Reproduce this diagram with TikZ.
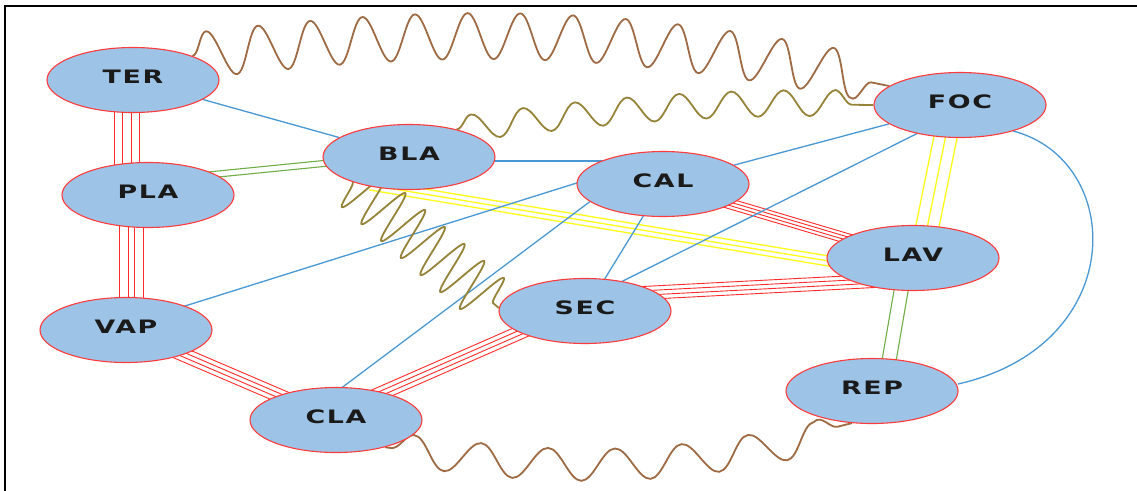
\documentclass[tikz,border=0pt]{standalone}
\usepackage{fontspec}
\newfontfamily\nodefont{DejaVu Sans}[FakeStretch=1.45,LetterSpace=9]
\usetikzlibrary{calc,shapes.geometric,decorations.pathmorphing,backgrounds}
\definecolor{nodefill}{HTML}{9DC3E6}
\definecolor{noderim}{HTML}{FF3B3B}
\definecolor{blueline}{HTML}{4A98D3}
\definecolor{redline}{HTML}{FF2A2A}
\definecolor{yelline}{HTML}{FFFF1A}
\definecolor{grnline}{HTML}{70AD47}
\definecolor{brownw}{HTML}{9E6A44}
\definecolor{olivew}{HTML}{948338}
\definecolor{txt}{HTML}{1A1A1A}
\tikzset{
  state/.style={ellipse, draw=noderim, line width=1.1pt, fill=nodefill,
    minimum width=172pt, minimum height=65pt, inner sep=0pt, text=txt,
    font=\nodefont\bfseries\fontsize{18.5}{18.5}\selectfont, text depth=6pt},
  blueedge/.style={draw=blueline, line width=1.3pt},
  rededge/.style={draw=redline, line width=0.9pt},
  yeledge/.style={draw=yelline, line width=1.3pt},
  grnedge/.style={draw=grnline, line width=1.1pt},
  brownwave/.style={draw=brownw, line width=1.8pt, decorate},
  olivewave/.style={draw=olivew, line width=1.8pt, decorate},
  frame/.style={draw=black, line width=1.4pt}
}
\newcommand\multiedge[4]{\foreach \o in {#4}{\draw[#1] ($(#2)!\o pt!90:(#3)$) -- ($(#3)!\o pt!-90:(#2)$);}}
\begin{document}
\begin{tikzpicture}[x=1pt,y=1pt]
\useasboundingbox (0,0) rectangle (1137,-490);
% nodes
\node[state] (TER) at (133,-80) {TER};
\node[state] (PLA) at (148,-195) {PLA};
\node[state] (BLA) at (409,-157) {BLA};
\node[state] (CAL) at (663,-184) {CAL};
\node[state] (FOC) at (960,-105) {FOC};
\node[state] (LAV) at (913,-258) {LAV};
\node[state] (VAP) at (126,-330) {VAP};
\node[state] (CLA) at (336,-420) {CLA};
\node[state] (SEC) at (585,-311) {SEC};
\node[state] (REP) at (872,-391) {REP};
\begin{scope}[on background layer]
\fill[white] (0,0) rectangle (1137,-490);
\draw[frame] (5,-540) |- (1180,-6);
% helper coordinates tied to nodes
\coordinate (terA) at ($(TER)+(-6.5,0)$);
\coordinate (plaA) at ($(PLA)+(-21.5,0)$);
\coordinate (plaB) at ($(PLA)+(-17,0)$);
\coordinate (vapB) at ($(VAP)+(5,0)$);
\coordinate (claC) at ($(CLA)+(0,7)$);
\coordinate (secC) at ($(SEC)+(0,7)$);
\coordinate (secD) at ($(SEC)+(0,15)$);
\coordinate (lavD) at ($(LAV)+(0,-21)$);
\coordinate (focE) at ($(FOC)+(-8,0)$);
\coordinate (lavE) at ($(LAV)+(8,0)$);
\coordinate (blaF) at ($(BLA)+(-39,-28)$);
\coordinate (lavF) at ($(LAV)+(0,-17)$);
\coordinate (plaG) at ($(PLA)+(0,14)$);
\coordinate (blaG) at ($(BLA)+(0,2)$);
\coordinate (lavH) at ($(LAV)+(-6.3,0)$);
\coordinate (repH) at ($(REP)+(11.8,0)$);
% red multi-line edges
\multiedge{rededge}{terA}{plaA}{-12.5,-4.5,4.5,12.5}
\multiedge{rededge}{plaB}{vapB}{-12,-3,3,12}
\multiedge{rededge}{VAP}{CLA}{-6.75,-2.25,2.25,6.75}
\multiedge{rededge}{claC}{secC}{-6.75,-2.25,2.25,6.75}
\multiedge{rededge}{secD}{lavD}{-6.5,-2.2,2.2,6.5}
\multiedge{rededge}{CAL}{LAV}{-5,-1.7,1.7,5}
% yellow
\multiedge{yeledge}{focE}{lavE}{-11.5,0,11.5}
\multiedge{yeledge}{blaF}{lavF}{-5,0,5}
% green
\multiedge{grnedge}{plaG}{blaG}{-3,3}
\multiedge{grnedge}{lavH}{repH}{-7,7}
% blue
\draw[blueedge] (TER) -- (BLA);
\draw[blueedge] ($(BLA)+(0,-4)$) -- ($(CAL)+(0,23)$);
\draw[blueedge] (CAL) -- (FOC);
\draw[blueedge] ($(FOC)+(0,-7)$) -- ($(SEC)+(0,11)$);
\draw[blueedge] (CAL) -- (SEC);
\draw[blueedge] ($(CAL)+(-43,14.6)$) -- ($(VAP)+(24,13)$);
\draw[blueedge] ($(CAL)+(-43,5)$) -- ($(CLA)+(0,28)$);
\draw[blueedge] ($(FOC)+(53,-26)$) .. controls +(112,-29) and +(172,39) .. ($(REP)+(86,7)$);
% wavy
\draw[brownwave, decoration={snake, amplitude=23pt, segment length=52pt}] (TER.22) to[bend left=9] (FOC.165);
\draw[olivewave, decoration={snake, amplitude=13pt, segment length=52pt}] (BLA.30) to[bend left=4] (FOC.180);
\draw[olivewave, decoration={snake, amplitude=26pt, segment length=26pt, mirror}] (BLA.204) -- (SEC.178);
\draw[brownwave, decoration={snake, amplitude=16pt, segment length=68pt, pre length=6pt, post length=12pt}] (CLA.-29) to[bend right=11] (REP.238);
\end{scope}
\end{tikzpicture}
\end{document}
